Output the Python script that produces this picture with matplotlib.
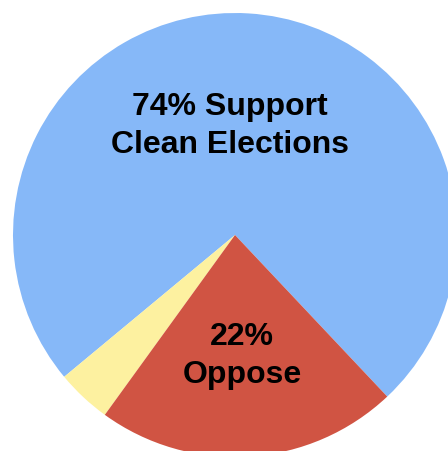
import matplotlib.pyplot as plt

# slices, going counterclockwise from the right edge of the red wedge
labels = ["Support", "Undecided", "Oppose"]
shares = [74, 4, 22]
colors = ["#86B8F8", "#FDF1A0", "#D05443"]

W, H = 448, 452
fig = plt.figure(figsize=(W / 100, H / 100), dpi=100)
ax = fig.add_axes([0, 0, 1, 1])

# pie drawn in pixel units so it can run off the right/bottom edge like the original
ax.pie(shares, colors=colors, startangle=-46.7, counterclock=True,
       center=(235, H - 236), radius=222, frame=True,
       wedgeprops=dict(linewidth=0))

ax.set_xlim(0, W)
ax.set_ylim(0, H)
ax.set_aspect("equal")
ax.axis("off")

font = dict(family=["Liberation Sans", "DejaVu Sans"], fontsize=23,
            fontweight="bold", color="black", ha="center", va="center")
ax.text(230, H - 107, f"{shares[0]}% Support", **font)
ax.text(230, H - 145, "Clean Elections", **font)
ax.text(242, H - 337, f"{shares[2]}%", **font)
ax.text(242, H - 375, "Oppose", **font)

fig.savefig("out.png", dpi=100)
